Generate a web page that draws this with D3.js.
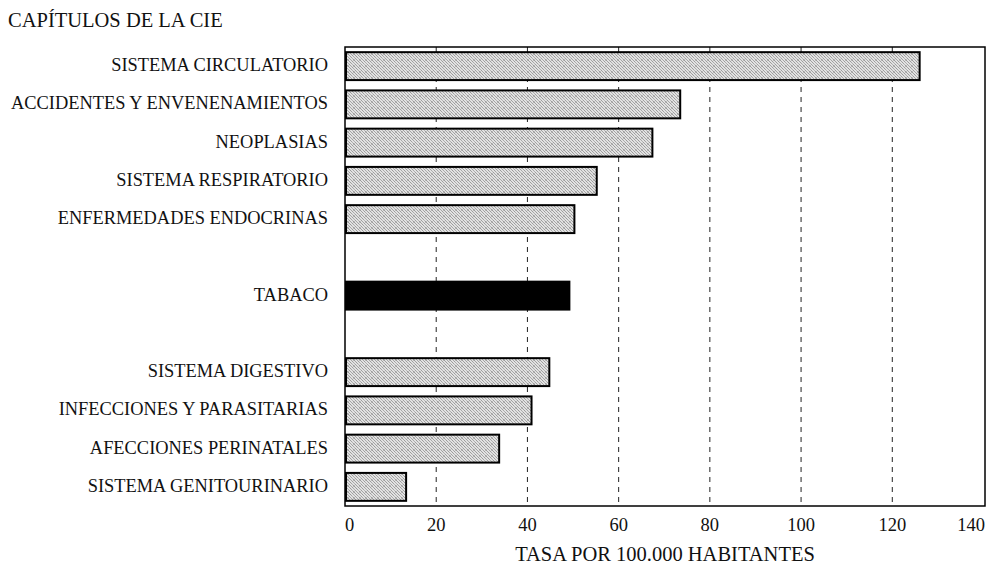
<!DOCTYPE html>
<html>
<head>
	<meta charset="utf-8">
	<title></title>
	<script src="https://d3js.org/d3.v7.min.js"></script>
	<style>
		body { margin: 0; background: #fff; }
		svg text { font-family: "Liberation Serif", "DejaVu Serif", serif; fill: #111; }
	</style>
</head>
<body>
	<svg></svg>
	<script type="text/javascript">

    // blank slots ("gap1", "gap2") keep the empty rows around TABACO
    var categories = ["SISTEMA CIRCULATORIO", "ACCIDENTES Y ENVENENAMIENTOS", "NEOPLASIAS",
                      "SISTEMA RESPIRATORIO", "ENFERMEDADES ENDOCRINAS", "gap1", "TABACO", "gap2",
                      "SISTEMA DIGESTIVO", "INFECCIONES Y PARASITARIAS", "AFECCIONES PERINATALES",
                      "SISTEMA GENITOURINARIO"];
    var values = [126, 73.5, 67.4, 55.2, 50.3, null, 49.2, null, 44.8, 40.9, 33.8, 13.4];
    var highlight = "TABACO";
    var xTicks = [0, 20, 40, 60, 80, 100, 120, 140];

    var W = 989, H = 566;
    var plot = {left: 345, right: 985, top: 47, bottom: 506};

    var svg = d3.select('svg').attr("width", W).attr("height", H);

    var x = d3.scaleLinear().domain([0, 140]).range([plot.left, plot.right - 1.5]);
    var y = d3.scaleBand().domain(categories).range([plot.top, plot.bottom]).paddingInner(0.27).paddingOuter(0.135);

    /** halftone-like gray fill, dots scattered in a small tile **/
    var defs = svg.append("defs");
    var pat = defs.append("pattern").attr("id", "stipple")
        .attr("width", 6).attr("height", 6).attr("patternUnits", "userSpaceOnUse");
    pat.append("rect").attr("width", 6).attr("height", 6).attr("fill", "#e2e2e2");
    var dots = [[0,0,"#999"],[3,0,"#a6a6a6"],[5,0,"#bbb"],[1,1,"#a0a0a0"],[4,1,"#9c9c9c"],
                [2,2,"#999"],[5,2,"#aaa"],[0,3,"#b0b0b0"],[3,3,"#a2a2a2"],
                [1,4,"#9e9e9e"],[4,4,"#b4b4b4"],[2,5,"#a4a4a4"],[5,5,"#9a9a9a"],[0,5,"#c0c0c0"]];
    dots.forEach(function(p) {
      pat.append("rect").attr("x", p[0]).attr("y", p[1]).attr("width", 1).attr("height", 1).attr("fill", p[2]);
    });

    // dashed grid
    svg.append("g").selectAll("line")
      .data(xTicks.filter(function(d) { return d > 0 && d < 140; }))
      .enter().append("line")
        .attr("x1", function(d) { return x(d); })
        .attr("x2", function(d) { return x(d); })
        .attr("y1", plot.top)
        .attr("y2", plot.bottom)
        .attr("stroke", "#222")
        .attr("stroke-width", 1)
        .attr("stroke-dasharray", "5,5");

    var rows = categories.map(function(c, i) { return {cat: c, val: values[i]}; })
        .filter(function(d) { return d.val !== null; });

    svg.append("g").selectAll("rect")
      .data(rows)
      .enter().append("rect")
        .attr("x", x(0) + 1)
        .attr("y", function(d) { return y(d.cat); })
        .attr("width", function(d) { return x(d.val) - x(0) - 1; })
        .attr("height", y.bandwidth())
        .attr("fill", function(d) { return d.cat == highlight ? "#000" : "url(#stipple)"; })
        .attr("stroke", "#000")
        .attr("stroke-width", 2);

    // frame
    svg.append("rect")
      .attr("x", plot.left).attr("y", plot.top)
      .attr("width", plot.right - plot.left).attr("height", plot.bottom - plot.top)
      .attr("fill", "none").attr("stroke", "#000").attr("stroke-width", 1.5);

    // category labels
    svg.append("g").selectAll("text")
      .data(rows)
      .enter().append("text")
        .attr("x", 328)
        .attr("y", function(d) { return y(d.cat) + y.bandwidth() / 2 + 5; })
        .attr("text-anchor", "end")
        .style("font-size", "18.4px")
        .text(function(d) { return d.cat; });

    // x tick labels
    svg.append("g").selectAll("text")
      .data(xTicks)
      .enter().append("text")
        .attr("x", function(d, i) { return i == 0 ? plot.left : (i == xTicks.length - 1 ? plot.right : x(d)); })
        .attr("y", 531)
        .attr("text-anchor", function(d, i) { return i == 0 ? "start" : (i == xTicks.length - 1 ? "end" : "middle"); })
        .style("font-size", "18.5px")
        .text(function(d) { return d; });

    svg.append("text")
      .attr("x", 665).attr("y", 561)
      .attr("text-anchor", "middle")
      .style("font-size", "20.5px")
      .text("TASA POR 100.000 HABITANTES");

    svg.append("text")
      .attr("x", 8).attr("y", 27)
      .style("font-size", "20.5px")
      .text("CAPÍTULOS DE LA CIE");
    </script>
</body>
</html>
